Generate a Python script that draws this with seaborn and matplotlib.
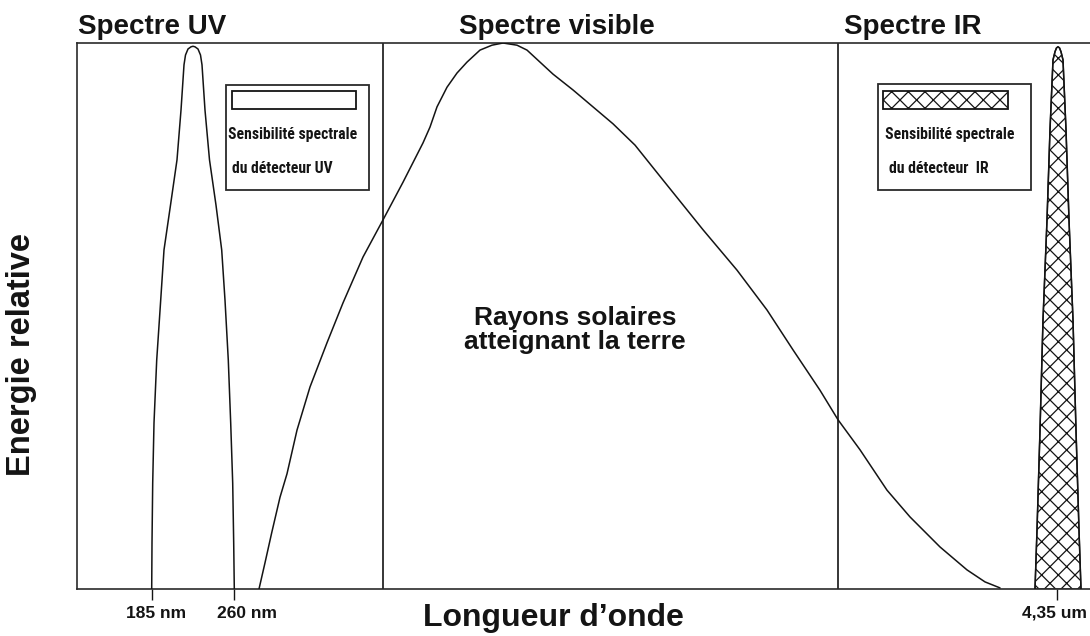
import numpy as np
import pandas as pd
import seaborn as sns
import matplotlib
matplotlib.use("Agg")
import matplotlib.pyplot as plt
from matplotlib.patches import Rectangle
from matplotlib.transforms import ScaledTranslation
from matplotlib import font_manager

# ---------------- data (arbitrary wavelength units, relative energy 0..1) ----------------
sun_x = [182, 188, 194.7, 203, 210, 220, 233, 250, 266, 286, 306, 326, 346, 353, 360, 370,
         380, 390, 403, 415, 426, 440, 450, 463, 476, 496, 516, 536, 558, 586, 626, 660,
         690, 716, 743, 761, 783, 810, 833, 863, 890, 908, 923]
sun_y = [0.000, 0.048, 0.103, 0.168, 0.211, 0.291, 0.370, 0.451, 0.524, 0.608, 0.676,
         0.745, 0.817, 0.846, 0.883, 0.919, 0.945, 0.965, 0.987, 0.996, 1.000, 0.996,
         0.987, 0.965, 0.943, 0.914, 0.883, 0.852, 0.813, 0.749, 0.658, 0.584, 0.511,
         0.438, 0.364, 0.310, 0.255, 0.181, 0.132, 0.077, 0.035, 0.013, 0.002]

uv_x = [74.7, 75, 75.7, 77, 79.7, 83.7, 87, 93.5, 100, 104, 107, 108.5, 111, 114, 116,
        118, 121, 123.5, 125, 128, 132.5, 139, 144.7, 148, 151.3, 153.7, 155.7, 156.7, 157.3]
uv_y = [0.000, 0.084, 0.194, 0.304, 0.419, 0.529, 0.621, 0.703, 0.786, 0.877, 0.960,
        0.978, 0.989, 0.993, 0.994, 0.993, 0.989, 0.978, 0.960, 0.877, 0.786, 0.703,
        0.621, 0.529, 0.419, 0.304, 0.194, 0.084, 0.000]

ir_x = [958, 960, 963, 966, 970, 973, 976, 978, 979.5, 981, 982.5, 984, 986, 989, 992,
        996, 999, 1002, 1004]
ir_y = [0.000, 0.108, 0.291, 0.493, 0.676, 0.841, 0.969, 0.984, 0.991, 0.993, 0.991,
        0.984, 0.969, 0.841, 0.676, 0.493, 0.291, 0.108, 0.000]

region_bounds = [306, 761]
region_titles = ["Spectre UV", "Spectre visible", "Spectre IR"]
tick_pos = [75, 157, 980]
tick_labels = ["185 nm", "260 nm", "4,35 um"]
legend_line1 = ["Sensibilité spectrale", "Sensibilité spectrale"]
legend_line2 = ["du détecteur UV", "du détecteur  IR"]
centre_text = "Rayons solaires\natteignant la terre"

# ---------------- style ----------------
sns.set_style("white")
plt.rcParams["font.family"] = ["Liberation Sans", "DejaVu Sans"]
plt.rcParams["hatch.linewidth"] = 0.9
names = {f.name for f in font_manager.fontManager.ttflist}
narrow = "Liberation Sans"
for cand in ["Liberation Sans Narrow", "Roboto Condensed", "DejaVu Sans Condensed", "Open Sans Condensed"]:
    if cand in names:
        narrow = cand
        break

INK = "#141414"
W, H = 1090, 636
fig = plt.figure(figsize=(W / 100, H / 100), dpi=100)
ax = fig.add_axes([77 / W, (H - 589) / H, 1 - 77 / W, (589 - 43) / H])
ax.set_xlim(0, 1013)
ax.set_ylim(0, 1)

def px2x(px):
    return px - 77

def py2y(py):
    return (589 - py) / 546

sun = pd.DataFrame({"x": sun_x, "y": sun_y})
uv = pd.DataFrame({"x": uv_x, "y": uv_y})
ir = pd.DataFrame({"x": ir_x, "y": ir_y})

ax.fill(ir["x"], ir["y"], facecolor="white", edgecolor=INK, hatch="xx", linewidth=1.0, zorder=2)
sns.lineplot(data=sun, x="x", y="y", sort=False, estimator=None, color=INK, linewidth=1.1, ax=ax, zorder=3)
sns.lineplot(data=uv, x="x", y="y", sort=False, estimator=None, color=INK, linewidth=1.1, ax=ax, zorder=3)
sns.lineplot(data=ir, x="x", y="y", sort=False, estimator=None, color=INK, linewidth=1.1, ax=ax, zorder=3)

for b in region_bounds:
    ax.axvline(b, color=INK, linewidth=1.2, zorder=1)

# spines
for s in ["left", "top", "bottom"]:
    ax.spines[s].set_visible(True)
    ax.spines[s].set_color("#2a2a2a")
    ax.spines[s].set_linewidth(1.2)
ax.spines["right"].set_visible(False)

ax.set_yticks([])
ax.set_xticks(tick_pos)
ax.set_xticklabels(tick_labels, fontsize=12.5, fontweight="bold", color=INK)
ax.tick_params(axis="x", direction="out", length=8, width=1.0, color=INK, pad=4, bottom=True)
offsets = [4, 13, -2]
for lab, dx in zip(ax.get_xticklabels(), offsets):
    lab.set_transform(lab.get_transform() + ScaledTranslation(dx / 100, 0, fig.dpi_scale_trans))

ax.set_xlabel("")
ax.set_ylabel("")

# titles above regions
fig.text(78 / W, 1 - 34 / H, region_titles[0], fontsize=20, fontweight="bold", color=INK, va="baseline", ha="left")
fig.text(557 / W, 1 - 34 / H, region_titles[1], fontsize=20, fontweight="bold", color=INK, va="baseline", ha="center")
fig.text(844 / W, 1 - 34 / H, region_titles[2], fontsize=20, fontweight="bold", color=INK, va="baseline", ha="left")

# axis titles
fig.text(22 / W, 1 - 355 / H, "Energie relative", rotation=90, fontsize=23.5, fontweight="bold",
         color=INK, ha="center", va="center")
fig.text(553 / W, 1 - 618 / H, "Longueur d\u2019onde", fontsize=23, fontweight="bold",
         color=INK, ha="center", va="center")

# centre annotation
ax.text(px2x(575), py2y(330), centre_text, fontsize=19, fontweight="bold", color=INK,
        ha="center", va="center", linespacing=0.95)

# legend boxes
renderer = fig.canvas.get_renderer()

def legend_box(x0, y0, x1, y1, bx0, by0, bx1, by1, hatch, l1, l2, t1x, t1y, t2x, t2y, target_w):
    ax.add_patch(Rectangle((px2x(x0), py2y(y1)), x1 - x0, (y1 - y0) / 546,
                           facecolor="white", edgecolor="#2a2a2a", linewidth=1.3, zorder=4))
    ax.add_patch(Rectangle((px2x(bx0), py2y(by1)), bx1 - bx0, (by1 - by0) / 546,
                           facecolor="white", edgecolor=INK, linewidth=1.3, hatch=hatch, zorder=5))
    kw = dict(fontweight="bold", family=[narrow, "DejaVu Sans"], color=INK,
              ha="left", va="baseline", zorder=6)
    t1 = ax.text(px2x(t1x), py2y(t1y), l1, fontsize=12, **kw)
    w = t1.get_window_extent(renderer).width
    fs = 12 * target_w / w
    t1.set_fontsize(fs)
    ax.text(px2x(t2x), py2y(t2y), l2, fontsize=fs, **kw)

legend_box(226, 85, 369, 190, 232, 91, 356, 109, None, legend_line1[0], legend_line2[0],
           228, 139, 232, 173, 129)
legend_box(878, 84, 1031, 190, 883, 91, 1008, 109, "xx", legend_line1[1], legend_line2[1],
           885, 139, 889, 173, 130)

fig.savefig("out.png", dpi=100)
